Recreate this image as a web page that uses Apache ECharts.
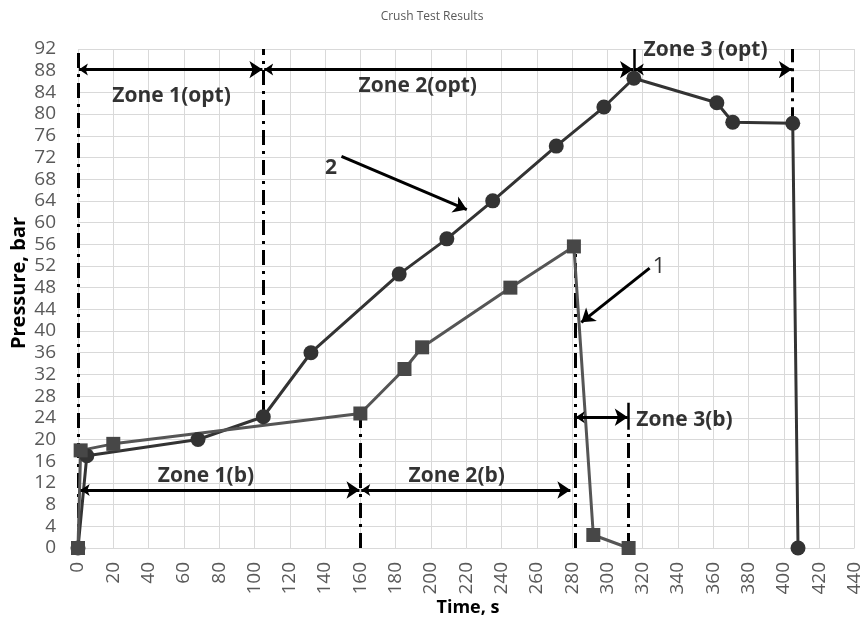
<!DOCTYPE html>
<html>
<head>
<meta charset="utf-8">
<script src="https://cdn.jsdelivr.net/npm/echarts@6/dist/echarts.min.js"></script>
<style>html,body{margin:0;padding:0;background:#fff}#c{width:864px;height:618px}</style>
</head>
<body>
<div id="c"></div>
<script>
// ---- data ----
const series2Time = [0, 5, 68, 105, 132, 182, 209, 235, 271, 298, 315, 362, 371, 405, 408];
const series2Pressure = [0, 17, 20, 24.2, 36, 50.5, 57, 64, 74.1, 81.3, 86.6, 82.1, 78.5, 78.3, 0];
const series1Time = [0, 1.5, 20, 160, 185, 195, 245, 281, 292, 312];
const series1Pressure = [0, 18, 19.2, 24.8, 33, 37, 48, 55.6, 2.4, 0];

// axis ranges
const xRange = [0, 440, 20];
const yRange = [0, 92, 4];

// annotation geometry (data units)
const dashDotLines = [
  [[0, 0], [0, 92]],
  [[105, 24.5], [105, 92]],
  [[405, 78.5], [405, 92]],
  [[160, 0], [160, 25]],
  [[281.5, 0], [281.5, 55.5]],
  [[312, 0], [312, 22]]
];
const solidTicks = [
  [[315, 87], [315, 92]],
  [[312, 21.8], [312, 26.8]]
];
const zoneArrows = [
  [[0.5, 88.2], [104.5, 88.2]],
  [[105.5, 88.2], [314.5, 88.2]],
  [[315.5, 88.2], [404.5, 88.2]],
  [[1.5, 10.7], [159.5, 10.7]],
  [[160.5, 10.7], [279, 10.7]],
  [[282, 24.1], [311.5, 24.1]]
];
const pointerArrows = [
  [[149.3, 72.2], [220.3, 62.4]],
  [[323.9, 51.6], [285.2, 41.6]]
];
const zoneLabels = [
  ['Zone 1(opt)', 53, 83.3],
  ['Zone 2(opt)', 192.5, 85.1],
  ['Zone 3 (opt)', 355.6, 91.9],
  ['Zone 1(b)', 72.5, 13.2],
  ['Zone 2(b)', 214.6, 13.3],
  ['Zone 3(b)', 343.7, 23.6],
  ['2', 143.3, 70.1]
];
const thinLabels = [
  ['1', 329.2, 51.9]
];

const chart = echarts.init(document.getElementById('c'));
const FONT = 'Open Sans';
const zip = (a, b) => a.map((v, i) => [v, b[i]]);

chart.setOption({
  animation: false,
  title: {
    text: 'Crush Test Results', left: 'center', top: 6,
    textStyle: { fontFamily: FONT, fontSize: 12, fontWeight: 'normal', color: '#595959' }
  },
  grid: { left: 78, right: 9, top: 49, bottom: 70 },
  xAxis: {
    type: 'value', min: xRange[0], max: xRange[1], interval: xRange[2],
    axisLine: { show: false }, axisTick: { show: false },
    splitLine: { show: true, lineStyle: { color: '#d9d9d9', width: 1 } },
    axisLabel: { rotate: 90, margin: 14, fontFamily: FONT, fontSize: 19, color: '#595959' }
  },
  yAxis: {
    type: 'value', min: yRange[0], max: yRange[1], interval: yRange[2],
    axisLine: { show: false }, axisTick: { show: false },
    splitLine: { show: true, lineStyle: { color: '#d9d9d9', width: 1 } },
    axisLabel: { margin: 22, fontFamily: FONT, fontSize: 19, color: '#595959' }
  },
  graphic: [
    { type: 'text', x: 468, y: 608,
      style: { text: 'Time, s', font: 'bold 18px ' + FONT, fill: '#000', align: 'center', verticalAlign: 'middle' } },
    { type: 'text', x: 9, y: 283, rotation: Math.PI / 2,
      style: { text: 'Pressure, bar', font: 'bold 20px ' + FONT, fill: '#000', align: 'center', verticalAlign: 'top' } }
  ],
  series: [
    {
      type: 'lines', coordinateSystem: 'cartesian2d', z: 3, silent: true,
      lineStyle: { color: '#000', width: 3, type: [15, 6, 3, 6], opacity: 1 },
      data: dashDotLines.map(c => ({ coords: c }))
    },
    {
      type: 'lines', coordinateSystem: 'cartesian2d', z: 3, silent: true,
      lineStyle: { color: '#000', width: 2.5, opacity: 1 },
      data: solidTicks.map(c => ({ coords: c }))
    },
    {
      type: 'line', name: '2', data: zip(series2Time, series2Pressure), z: 4,
      symbol: 'circle', symbolSize: 15, showSymbol: true,
      lineStyle: { color: '#333333', width: 3 }, itemStyle: { color: '#333333' }
    },
    {
      type: 'line', name: '1', data: zip(series1Time, series1Pressure), z: 4,
      symbol: 'rect', symbolSize: 14, showSymbol: true,
      lineStyle: { color: '#555555', width: 3 }, itemStyle: { color: '#474747' }
    },
    {
      type: 'lines', coordinateSystem: 'cartesian2d', z: 5, silent: true,
      symbol: ['arrow', 'arrow'], symbolSize: [9, 13],
      lineStyle: { color: '#000', width: 3, opacity: 1 },
      data: zoneArrows.map(c => ({ coords: c }))
    },
    {
      type: 'lines', coordinateSystem: 'cartesian2d', z: 5, silent: true,
      symbol: ['none', 'arrow'], symbolSize: [9, 13],
      lineStyle: { color: '#000', width: 3, opacity: 1 },
      data: pointerArrows.map(c => ({ coords: c }))
    },
    {
      type: 'scatter', z: 6, symbolSize: 0, silent: true,
      data: zoneLabels.map(l => ({ value: [l[1], l[2]], name: l[0] })),
      label: {
        show: true, position: 'inside', formatter: p => p.name,
        fontFamily: FONT, fontSize: 21, fontWeight: 'bold', color: '#000',
        align: 'center', verticalAlign: 'middle'
      }
    },
    {
      type: 'scatter', z: 6, symbolSize: 0, silent: true,
      data: thinLabels.map(l => ({ value: [l[1], l[2]], name: l[0] })),
      label: {
        show: true, position: 'inside', formatter: p => p.name,
        fontFamily: FONT, fontSize: 22, fontWeight: 'normal', color: '#000',
        align: 'center', verticalAlign: 'middle'
      }
    }
  ]
});
</script>
</body>
</html>
